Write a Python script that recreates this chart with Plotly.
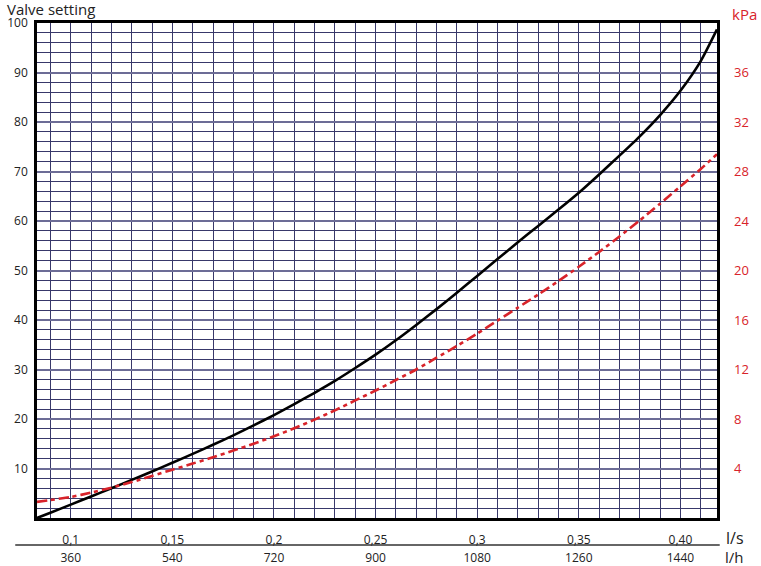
import plotly.graph_objects as go

# flow in l/s (bottom axis), l/h axis is the same scale * 3600
flow = [0.0834, 0.09, 0.10, 0.11, 0.12, 0.13, 0.14, 0.15, 0.16, 0.17, 0.18, 0.19,
        0.20, 0.21, 0.22, 0.23, 0.24, 0.25, 0.26, 0.27, 0.28, 0.29, 0.30, 0.31,
        0.32, 0.33, 0.34, 0.35, 0.36, 0.37, 0.38, 0.39, 0.40, 0.41, 0.418]

valve_setting = [0, 1.05, 2.7, 4.35, 6.0, 7.7, 9.4, 11.15, 12.95, 14.8, 16.7, 18.7,
                 20.8, 23.0, 25.3, 27.7, 30.3, 33.0, 35.9, 39.0, 42.2, 45.5, 48.9, 52.3,
                 55.7, 59.0, 62.3, 65.7, 69.4, 73.2, 77.1, 81.4, 86.3, 92.3, 98.7]

pressure_kpa = [1.3, 1.45, 1.7, 2.05, 2.45, 2.9, 3.4, 3.9, 4.4, 4.9, 5.45, 6.0,
                6.6, 7.25, 7.95, 8.7, 9.5, 10.3, 11.15, 12.0, 12.95, 13.9, 14.9, 15.95,
                17.0, 18.05, 19.15, 20.3, 21.5, 22.75, 24.05, 25.4, 26.8, 28.2, 29.4]

ls_ticks = [0.10, 0.15, 0.20, 0.25, 0.30, 0.35, 0.40]
ls_labels = ["0,1", "0,15", "0,2", "0,25", "0,3", "0,35", "0,40"]
lh_ticks = [360, 540, 720, 900, 1080, 1260, 1440]
valve_ticks = [10, 20, 30, 40, 50, 60, 70, 80, 90, 100]
kpa_ticks = [4, 8, 12, 16, 20, 24, 28, 32, 36]

x_range = [0.0834, 0.418]
navy = "#38386a"
red = "#d8232a"
font = "Open Sans, Liberation Sans, sans-serif"

fig = go.Figure()
# fine grid drawn on hidden helper axes (x every 0.01 l/s, y every 2)
fig.add_trace(go.Scatter(x=x_range, y=[None, None], xaxis="x3", yaxis="y3",
                         showlegend=False, hoverinfo="skip"))
fig.add_trace(go.Scatter(x=flow, y=valve_setting, mode="lines",
                         line=dict(color="black", width=2.6, shape="spline", smoothing=0.6),
                         showlegend=False))
fig.add_trace(go.Scatter(x=flow, y=pressure_kpa, mode="lines", yaxis="y2",
                         line=dict(color=red, width=2.6, dash="10px,4px,4px,4px",
                                   shape="spline", smoothing=0.6),
                         showlegend=False))
# dummy trace so the l/h axis gets drawn
fig.add_trace(go.Scatter(x=[x_range[0] * 3600, x_range[1] * 3600], y=[None, None],
                         xaxis="x2", mode="lines", showlegend=False, hoverinfo="skip"))

fig.update_layout(
    width=761, height=566,
    margin=dict(l=37, r=44, t=23, b=10),
    paper_bgcolor="white", plot_bgcolor="white",
    font=dict(family=font, size=12, color="#222"),
    xaxis3=dict(range=x_range, tickmode="linear", tick0=0, dtick=0.01, showgrid=True,
                gridcolor=navy, gridwidth=1, showticklabels=False, ticks="",
                zeroline=False, automargin=False, anchor="y3"),
    yaxis3=dict(domain=[0.0713, 1], range=[0, 100], tickmode="linear", tick0=0, dtick=2,
                showgrid=True, gridcolor=navy, gridwidth=1, showticklabels=False,
                ticks="", zeroline=False, automargin=False, anchor="x3"),
    xaxis=dict(range=x_range, tickmode="array", tickvals=ls_ticks, ticktext=ls_labels,
               showgrid=False, overlaying="x3",
               showline=True, linecolor="black", linewidth=2.5, mirror=True,
               ticks="", ticklabelstandoff=9, zeroline=False, automargin=False),
    xaxis2=dict(overlaying="x3", anchor="free", position=0.0206, side="bottom",
                range=[x_range[0] * 3600, x_range[1] * 3600],
                tickmode="array", tickvals=lh_ticks, showgrid=False, showline=False,
                ticks="", ticklabelstandoff=4, zeroline=False, automargin=False),
    yaxis=dict(domain=[0.0713, 1], range=[0, 100], tickmode="array", tickvals=valve_ticks,
               overlaying="y3",
               showgrid=True, gridcolor="#6c6c96", gridwidth=1.8,
               showline=True, linecolor="black", linewidth=2.5, mirror=True,
               ticks="", ticklabelstandoff=4, zeroline=False, automargin=False),
    yaxis2=dict(overlaying="y3", side="right", range=[0, 40], tickmode="array",
                tickvals=kpa_ticks, showgrid=False, showline=False, ticks="",
                tickfont=dict(color=red, size=13), ticklabelstandoff=16, zeroline=False,
                automargin=False),
    shapes=[dict(type="line", xref="paper", yref="paper", x0=-0.032, x1=1.004,
                 y0=0.0206, y1=0.0206, line=dict(color="#333", width=1.5))],
    annotations=[
        dict(text="Valve setting", xref="paper", yref="paper", x=-0.047, y=1.027,
             xanchor="left", yanchor="middle", showarrow=False,
             font=dict(size=15, color="#222")),
        dict(text="kPa", xref="paper", yref="paper", x=1.041, y=1.0169,
             xanchor="center", yanchor="middle", showarrow=False,
             font=dict(size=15, color=red)),
        dict(text="l/s", xref="paper", yref="paper", x=1.026, y=0.0338,
             xanchor="center", yanchor="middle", showarrow=False,
             font=dict(size=16, color="#222")),
        dict(text="l/h", xref="paper", yref="paper", x=1.026, y=-0.001,
             xanchor="center", yanchor="middle", showarrow=False,
             font=dict(size=15, color="#222")),
    ],
)

# drop the default 8px body margin so the figure fills the window exactly
fig.write_html("out.html", config={"displayModeBar": False},
               post_script="document.body.style.margin = '0px';")
